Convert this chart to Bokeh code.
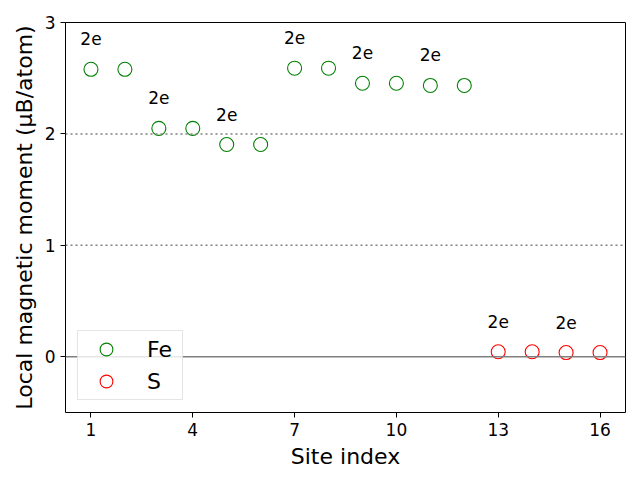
from bokeh.plotting import figure
from bokeh.models import Span, Range1d, FixedTicker, ColumnDataSource, Legend, LegendItem
from bokeh.embed import file_html
from bokeh.resources import INLINE
from bokeh.core.properties import value

fe_sites = [1, 2, 3, 4, 5, 6, 7, 8, 9, 10, 11, 12]
fe_moments = [2.58, 2.58, 2.05, 2.05, 1.905, 1.905, 2.59, 2.59, 2.455, 2.455, 2.435, 2.435]
s_sites = [13, 14, 15, 16]
s_moments = [0.045, 0.045, 0.038, 0.038]
label_sites = [1, 3, 5, 7, 9, 11, 13, 15]
label_text = ["2e"] * 8
x_ticks = [1, 4, 7, 10, 13, 16]
y_ticks = [0, 1, 2, 3]

moment_by_site = dict(zip(fe_sites + s_sites, fe_moments + s_moments))
label_y = [moment_by_site[s] for s in label_sites]

FONT = "DejaVu Sans"

p = figure(width=640, height=480, frame_width=560, frame_height=390,
           output_backend="svg", toolbar_location=None,
           x_range=Range1d(0.25, 16.75), y_range=Range1d(-0.5, 3.0),
           min_border_left=65, min_border_right=15, min_border_top=22, min_border_bottom=68)

p.xgrid.visible = False
p.ygrid.visible = False
p.outline_line_color = "black"
p.outline_line_width = 1
p.background_fill_color = "white"
p.border_fill_color = "white"

for yv in (1, 2):
    p.add_layout(Span(location=yv, dimension="width", line_color="#808080",
                      line_width=1.5, line_dash="2 3"))
p.add_layout(Span(location=0, dimension="width", line_color="#808080", line_width=1.5))

r_fe = p.scatter(fe_sites, fe_moments, marker="circle", size=14, fill_color=None,
                 line_color="green", line_width=1.1)
r_s = p.scatter(s_sites, s_moments, marker="circle", size=14, fill_color=None,
                line_color="red", line_width=1.1)

src = ColumnDataSource(dict(x=label_sites, y=label_y, t=label_text))
p.text(x="x", y="y", text="t", source=src, y_offset=-24, text_align="center",
       text_baseline="bottom", text_font=value(FONT), text_font_size="17px",
       text_color="black")

p.xaxis.ticker = FixedTicker(ticks=x_ticks)
p.yaxis.ticker = FixedTicker(ticks=y_ticks)
for ax in (p.xaxis[0], p.yaxis[0]):
    ax.minor_tick_line_color = None
    ax.major_tick_out = 5
    ax.major_tick_in = 0
    ax.major_label_text_font = FONT
    ax.major_label_text_font_size = "17px"
    ax.major_label_text_color = "black"
    ax.axis_label_text_font = FONT
    ax.axis_label_text_font_size = "22px"
    ax.axis_label_text_font_style = "normal"
    ax.axis_label_text_color = "black"
    ax.axis_line_color = None
    ax.major_tick_line_color = "black"

p.xaxis.axis_label = "Site index"
p.xaxis.axis_label_standoff = 5
p.yaxis.axis_label = "Local magnetic moment (\u03bcB/atom)"
p.yaxis.axis_label_standoff = 5

legend = Legend(items=[LegendItem(label="Fe", renderers=[r_fe]),
                       LegendItem(label="S", renderers=[r_s])],
                location="bottom_left")
legend.margin = 12
legend.label_text_font = FONT
legend.label_text_font_size = "22px"
legend.label_text_color = "black"
legend.border_line_color = "#cccccc"
legend.border_line_width = 1
legend.background_fill_alpha = 0.8
legend.padding = 2
legend.spacing = 0
legend.glyph_width = 52
legend.glyph_height = 32
legend.label_standoff = 15
legend.label_width = 33
p.add_layout(legend)

open("out.html", "w").write(file_html(p, INLINE))
